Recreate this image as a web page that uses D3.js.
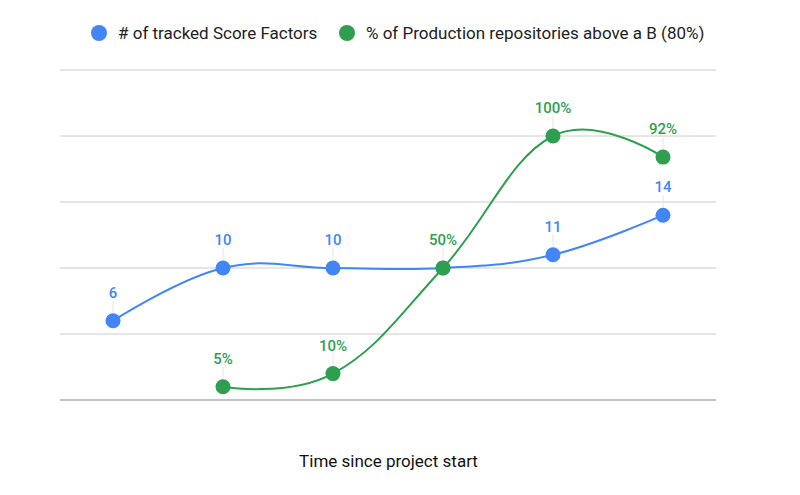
<!DOCTYPE html>
<html><head><meta charset="utf-8">
<script src="https://cdn.jsdelivr.net/npm/d3@7"></script>
<style>body{margin:0;background:#fff;}svg{display:block;font-family:Roboto,Arial,sans-serif;}</style>
</head><body><svg id="c" width="800" height="495"></svg>
<script>
const categories = ["1","2","3","4","5","6"];
const scoreFactors = [6, 10, 10, 10, 11, 14];
const scoreLabels = ["6","10","10",null,"11","14"];
const prodAboveB = [null, 5, 10, 50, 100, 92];
const prodLabels = [null,"5%","10%","50%","100%","92%"];
const leftTicks = [0,5,10,15,20,25];
const rightTicks = [0,25,50,75,100,125];
const seriesNames = ["# of tracked Score Factors","% of Production repositories above a B (80%)"];
const xTitle = "Time since project start";
const BLUE = "#4285F4", GREEN = "#2E9E4F";

const svg = d3.select("#c");
const L = 60, R = 716, T = 70, B = 400;
const x = d3.scalePoint().domain(categories).range([58, 718]).padding(0.5);
const yL = d3.scaleLinear().domain([0,25]).range([B, T]);
const yR = d3.scaleLinear().domain([0,125]).range([B, T]);

// gridlines
svg.append("g").selectAll("line").data(leftTicks.slice(1)).join("line")
  .attr("x1", L).attr("x2", R).attr("y1", d=>yL(d)).attr("y2", d=>yL(d))
  .attr("stroke", "#cccccc").attr("stroke-width", 1);
svg.append("line").attr("x1", L).attr("x2", R).attr("y1", yL(0)).attr("y2", yL(0))
  .attr("stroke", "#888").attr("stroke-width", 1.2);

function drawSeries(vals, labels, y, color){
  const pts = categories.map((c,i)=>({c, v: vals[i], l: labels[i]})).filter(d=>d.v!=null);
  const line = d3.line().x(d=>x(d.c)).y(d=>y(d.v)).curve(d3.curveCardinal.tension(-0.2));
  svg.append("path").datum(pts).attr("d", line).attr("fill","none")
    .attr("stroke", color).attr("stroke-width", 2);
  const lab = pts.filter(d=>d.l!=null);
  svg.append("g").selectAll("line").data(lab).join("line")
    .attr("x1", d=>x(d.c)).attr("x2", d=>x(d.c))
    .attr("y1", d=>y(d.v)-20).attr("y2", d=>y(d.v)-7)
    .attr("stroke", "#e6e6e6").attr("stroke-width", 1);
  svg.append("g").selectAll("circle").data(pts).join("circle")
    .attr("cx", d=>x(d.c)).attr("cy", d=>y(d.v)).attr("r", 7.5).attr("fill", color);
  svg.append("g").selectAll("text").data(lab).join("text")
    .attr("x", d=>x(d.c)).attr("y", d=>y(d.v)-23)
    .attr("text-anchor","middle").attr("font-size", 15).attr("font-weight", 500)
    .attr("fill", color).text(d=>d.l);
}
drawSeries(scoreFactors, scoreLabels, yL, BLUE);
drawSeries(prodAboveB, prodLabels, yR, GREEN);

// legend
const leg = [{n:seriesNames[0], c:BLUE, x:99},{n:seriesNames[1], c:GREEN, x:347}];
const lg = svg.append("g");
leg.forEach(d=>{
  lg.append("circle").attr("cx", d.x).attr("cy", 33).attr("r", 8).attr("fill", d.c);
  lg.append("text").attr("x", d.x+19).attr("y", 39).attr("font-size", 17)
    .attr("fill", "#222").text(d.n);
});

svg.append("text").attr("x", 388.5).attr("y", 467).attr("text-anchor","middle")
  .attr("font-size", 17).attr("fill","#111").text(xTitle);
</script></body></html>
